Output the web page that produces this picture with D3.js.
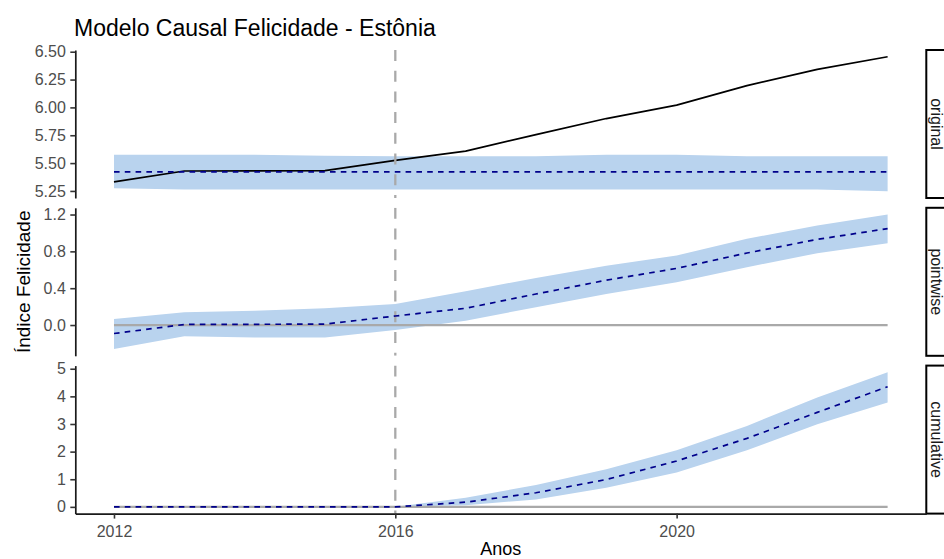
<!DOCTYPE html>
<html>
<head>
<meta charset="utf-8">
<script src="https://cdn.jsdelivr.net/npm/d3@7"></script>
<style>
  html, body { margin: 0; padding: 0; background: #ffffff; }
  svg { display: block; font-family: "Liberation Sans", Arial, Helvetica, sans-serif; }
</style>
</head>
<body>
<svg id="chart" width="944" height="559"></svg>
<script>
// ---- data -------------------------------------------------------------
const years = [2012, 2013, 2014, 2015, 2016, 2017, 2018, 2019, 2020, 2021, 2022, 2023];
const interventionYear = 2016;

// observed happiness index and the counterfactual prediction
const originalResponse = [5.332, 5.429, 5.430, 5.432, 5.525, 5.608, 5.756, 5.900, 6.020, 6.195, 6.342, 6.455];
const originalMean     = [5.422, 5.422, 5.422, 5.422, 5.422, 5.422, 5.422, 5.422, 5.422, 5.422, 5.422, 5.422];
const originalLower    = [5.275, 5.262, 5.262, 5.262, 5.262, 5.262, 5.262, 5.262, 5.262, 5.262, 5.262, 5.247];
const originalUpper    = [5.575, 5.575, 5.575, 5.565, 5.562, 5.562, 5.562, 5.576, 5.576, 5.562, 5.562, 5.562];

// pointwise effect
const pointwiseMean  = [-0.092, 0.006, 0.008, 0.010, 0.098, 0.182, 0.337, 0.487, 0.615, 0.782, 0.930, 1.047];
const pointwiseLower = [-0.261, -0.123, -0.134, -0.134, -0.054, 0.047, 0.193, 0.337, 0.465, 0.628, 0.780, 0.889];
const pointwiseUpper = [0.065, 0.138, 0.156, 0.182, 0.229, 0.367, 0.511, 0.645, 0.754, 0.936, 1.081, 1.200];

// cumulative effect
const cumulativeMean  = [0, 0, 0, 0, 0, 0.17, 0.51, 0.99, 1.66, 2.48, 3.42, 4.35];
const cumulativeLower = [0, 0, 0, 0, 0, 0.06, 0.27, 0.69, 1.24, 2.05, 2.99, 3.78];
const cumulativeUpper = [0, 0, 0, 0, 0, 0.33, 0.79, 1.36, 2.05, 2.93, 3.96, 4.87];

const facetLabels = ["original", "pointwise", "cumulative"];
const xTicks = [2012, 2016, 2020];
const originalTicks = [5.25, 5.50, 5.75, 6.00, 6.25, 6.50];
const pointwiseTicks = [0.0, 0.4, 0.8, 1.2];
const cumulativeTicks = [0, 1, 2, 3, 4, 5];

const titleText = "Modelo Causal Felicidade - Estônia";
const yTitle = "Índice Felicidade";
const xTitle = "Anos";

// ---- layout -----------------------------------------------------------
const panelLeft = 75.3, panelRight = 926.3;
const panelTop0 = 50, panelH = 148, panelGap = 9.8;
const stripW = 30;
const ribbonFill = "#B9D3EE";     // SlateGray2
const meanColor = "#00008B";      // darkblue
const refColor = "#A9A9A9";       // darkgrey

function expand(ext, f = 0.05) {
  const d = (ext[1] - ext[0]) * f;
  return [ext[0] - d, ext[1] + d];
}

const svg = d3.select("#chart");
const x = d3.scaleLinear().domain(expand(d3.extent(years))).range([panelLeft, panelRight]);

const panels = [
  { label: facetLabels[0], mean: originalMean, lower: originalLower, upper: originalUpper,
    response: originalResponse, ticks: originalTicks, fmt: d3.format(".2f"), baseline: false },
  { label: facetLabels[1], mean: pointwiseMean, lower: pointwiseLower, upper: pointwiseUpper,
    response: null, ticks: pointwiseTicks, fmt: d3.format(".1f"), baseline: true },
  { label: facetLabels[2], mean: cumulativeMean, lower: cumulativeLower, upper: cumulativeUpper,
    response: null, ticks: cumulativeTicks, fmt: d3.format("d"), baseline: true }
];

const defs = svg.append("defs");

panels.forEach((p, k) => {
  const top = panelTop0 + k * (panelH + panelGap);
  const bottom = top + panelH;
  const vals = [...p.lower, ...p.upper, ...p.mean, ...(p.response || [])];
  if (p.baseline) vals.push(0);
  const y = d3.scaleLinear().domain(expand(d3.extent(vals))).range([bottom, top]);

  const clipId = "clip-" + k;
  defs.append("clipPath").attr("id", clipId)
    .append("rect").attr("x", panelLeft).attr("y", top)
    .attr("width", panelRight - panelLeft).attr("height", panelH);

  const g = svg.append("g").attr("clip-path", `url(#${clipId})`);
  const idx = d3.range(years.length);

  // credible interval ribbon
  g.append("path")
    .datum(idx)
    .attr("fill", ribbonFill)
    .attr("d", d3.area().x(i => x(years[i])).y0(i => y(p.lower[i])).y1(i => y(p.upper[i])));

  // observed series
  if (p.response) {
    g.append("path")
      .datum(idx)
      .attr("fill", "none").attr("stroke", "#000").attr("stroke-width", 1.7)
      .attr("stroke-linejoin", "round")
      .attr("d", d3.line().x(i => x(years[i])).y(i => y(p.response[i])));
  }

  // zero baseline
  if (p.baseline) {
    g.append("path")
      .datum(idx)
      .attr("fill", "none").attr("stroke", refColor).attr("stroke-width", 2.2)
      .attr("d", d3.line().x(i => x(years[i])).y(() => y(0)));
  }

  // intervention marker
  g.append("line")
    .attr("x1", x(interventionYear)).attr("x2", x(interventionYear))
    .attr("y1", top).attr("y2", bottom)
    .attr("stroke", refColor).attr("stroke-width", 2.3)
    .attr("stroke-dasharray", "11,9.7");

  // predicted mean
  g.append("path")
    .datum(idx)
    .attr("fill", "none").attr("stroke", meanColor).attr("stroke-width", 1.7)
    .attr("stroke-dasharray", "5.6,5.2")
    .attr("d", d3.line().x(i => x(years[i])).y(i => y(p.mean[i])));

  // y axis
  const ay = svg.append("g")
    .attr("transform", `translate(${panelLeft},0)`)
    .call(d3.axisLeft(y).tickValues(p.ticks).tickFormat(p.fmt)
      .tickSize(5).tickSizeOuter(0).tickPadding(4.5));
  ay.select(".domain").attr("stroke", "#1a1a1a").attr("stroke-width", 1.7);
  ay.selectAll(".tick line").attr("stroke", "#333").attr("stroke-width", 1.6);
  ay.selectAll(".tick text").attr("fill", "#4D4D4D").attr("font-size", 16)
    .attr("font-family", "'Liberation Sans', Arial, sans-serif");

  // facet strip
  svg.append("rect")
    .attr("x", panelRight).attr("y", top).attr("width", stripW).attr("height", panelH)
    .attr("fill", "#fff").attr("stroke", "#000").attr("stroke-width", 2);
  svg.append("text")
    .attr("transform", `translate(${panelRight + 5},${top + panelH / 2}) rotate(90)`)
    .attr("text-anchor", "middle")
    .attr("font-size", 16).attr("fill", "#1A1A1A")
    .text(p.label);

  // x axis under the last panel
  if (k === panels.length - 1) {
    const ax = svg.append("g")
      .attr("transform", `translate(0,${bottom})`)
      .call(d3.axisBottom(x).tickValues(xTicks).tickFormat(d3.format("d"))
        .tickSize(5).tickSizeOuter(0).tickPadding(7));
    ax.select(".domain").attr("stroke", "#1a1a1a").attr("stroke-width", 1.7);
    ax.selectAll(".tick line").attr("stroke", "#333").attr("stroke-width", 1.6);
    ax.selectAll(".tick text").attr("fill", "#4D4D4D").attr("font-size", 16)
      .attr("font-family", "'Liberation Sans', Arial, sans-serif");
  }
});

// titles
svg.append("text")
  .attr("x", 74).attr("y", 36)
  .attr("font-size", 23).attr("fill", "#000")
  .text(titleText);

svg.append("text")
  .attr("transform", `translate(30,${(panelTop0 + panelTop0 + 3 * panelH + 2 * panelGap) / 2}) rotate(-90)`)
  .attr("text-anchor", "middle")
  .attr("font-size", 19).attr("fill", "#000")
  .text(yTitle);

svg.append("text")
  .attr("x", (panelLeft + panelRight) / 2).attr("y", 555)
  .attr("text-anchor", "middle")
  .attr("font-size", 18).attr("fill", "#000")
  .text(xTitle);
</script>
</body>
</html>
